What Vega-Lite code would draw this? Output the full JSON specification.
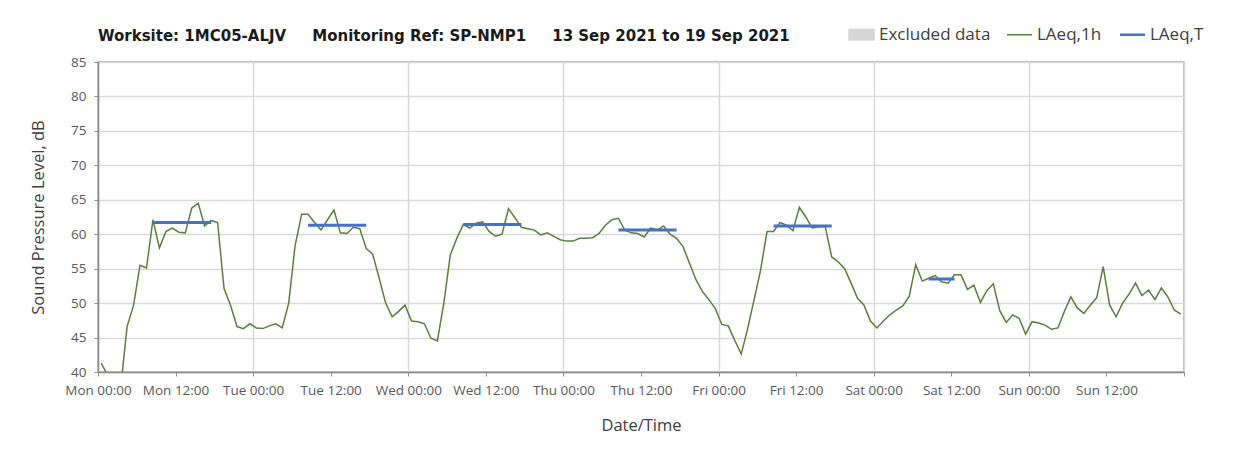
{
  "$schema": "https://vega.github.io/schema/vega-lite/v6.json",
  "width": 1086,
  "height": 310,
  "autosize": "none",
  "padding": {"left": 98, "top": 62, "right": 58, "bottom": 87},
  "background": "white",
  "title": {
    "text": "Worksite: 1MC05-ALJV\u00a0\u00a0\u00a0\u00a0\u00a0Monitoring Ref: SP-NMP1\u00a0\u00a0\u00a0\u00a0\u00a013 Sep 2021 to 19 Sep 2021",
    "anchor": "start",
    "frame": "group",
    "font": "DejaVu Sans",
    "fontSize": 15,
    "fontWeight": "bold",
    "color": "#1a1a1a",
    "offset": 18,
    "dy": 36
  },
  "datasets": {
    "hourly": [
      {"hour": 0.5, "level": 41.3}, {"hour": 1.5, "level": 39.5}, {"hour": 2.5, "level": 38.0}, {"hour": 3.5, "level": 37.6},
      {"hour": 4.5, "level": 46.6}, {"hour": 5.5, "level": 49.7}, {"hour": 6.5, "level": 55.5}, {"hour": 7.5, "level": 55.1},
      {"hour": 8.5, "level": 62.1}, {"hour": 9.5, "level": 58.0}, {"hour": 10.5, "level": 60.4}, {"hour": 11.5, "level": 60.9},
      {"hour": 12.5, "level": 60.3}, {"hour": 13.5, "level": 60.2}, {"hour": 14.5, "level": 63.8}, {"hour": 15.5, "level": 64.5},
      {"hour": 16.5, "level": 61.2}, {"hour": 17.5, "level": 62.0}, {"hour": 18.5, "level": 61.7}, {"hour": 19.5, "level": 52.1},
      {"hour": 20.5, "level": 49.7}, {"hour": 21.5, "level": 46.6}, {"hour": 22.5, "level": 46.3}, {"hour": 23.5, "level": 47.0},
      {"hour": 24.5, "level": 46.4}, {"hour": 25.5, "level": 46.3}, {"hour": 26.5, "level": 46.7}, {"hour": 27.5, "level": 47.0},
      {"hour": 28.5, "level": 46.4}, {"hour": 29.5, "level": 50.0}, {"hour": 30.5, "level": 58.4}, {"hour": 31.5, "level": 62.9},
      {"hour": 32.5, "level": 62.9}, {"hour": 33.5, "level": 61.7}, {"hour": 34.5, "level": 60.6}, {"hour": 35.5, "level": 62.1},
      {"hour": 36.5, "level": 63.5}, {"hour": 37.5, "level": 60.2}, {"hour": 38.5, "level": 60.1}, {"hour": 39.5, "level": 61.0},
      {"hour": 40.5, "level": 60.8}, {"hour": 41.5, "level": 57.9}, {"hour": 42.5, "level": 57.1}, {"hour": 43.5, "level": 53.6},
      {"hour": 44.5, "level": 50.0}, {"hour": 45.5, "level": 48.0}, {"hour": 46.5, "level": 48.8}, {"hour": 47.5, "level": 49.7},
      {"hour": 48.5, "level": 47.4}, {"hour": 49.5, "level": 47.3}, {"hour": 50.5, "level": 47.0}, {"hour": 51.5, "level": 44.9},
      {"hour": 52.5, "level": 44.5}, {"hour": 53.5, "level": 50.0}, {"hour": 54.5, "level": 57.0}, {"hour": 55.5, "level": 59.4},
      {"hour": 56.5, "level": 61.4}, {"hour": 57.5, "level": 60.9}, {"hour": 58.5, "level": 61.6}, {"hour": 59.5, "level": 61.8},
      {"hour": 60.5, "level": 60.4}, {"hour": 61.5, "level": 59.7}, {"hour": 62.5, "level": 60.0}, {"hour": 63.5, "level": 63.7},
      {"hour": 64.5, "level": 62.4}, {"hour": 65.5, "level": 61.0}, {"hour": 66.5, "level": 60.8}, {"hour": 67.5, "level": 60.6},
      {"hour": 68.5, "level": 59.9}, {"hour": 69.5, "level": 60.2}, {"hour": 70.5, "level": 59.7}, {"hour": 71.5, "level": 59.2},
      {"hour": 72.5, "level": 59.0}, {"hour": 73.5, "level": 59.0}, {"hour": 74.5, "level": 59.4}, {"hour": 75.5, "level": 59.4},
      {"hour": 76.5, "level": 59.5}, {"hour": 77.5, "level": 60.1}, {"hour": 78.5, "level": 61.3}, {"hour": 79.5, "level": 62.1},
      {"hour": 80.5, "level": 62.3}, {"hour": 81.5, "level": 60.6}, {"hour": 82.5, "level": 60.2}, {"hour": 83.5, "level": 60.1},
      {"hour": 84.5, "level": 59.6}, {"hour": 85.5, "level": 60.9}, {"hour": 86.5, "level": 60.6}, {"hour": 87.5, "level": 61.2},
      {"hour": 88.5, "level": 60.0}, {"hour": 89.5, "level": 59.4}, {"hour": 90.5, "level": 58.2}, {"hour": 91.5, "level": 55.8},
      {"hour": 92.5, "level": 53.4}, {"hour": 93.5, "level": 51.7}, {"hour": 94.5, "level": 50.5}, {"hour": 95.5, "level": 49.2},
      {"hour": 96.5, "level": 46.9}, {"hour": 97.5, "level": 46.7}, {"hour": 98.5, "level": 44.6}, {"hour": 99.5, "level": 42.6},
      {"hour": 100.5, "level": 46.3}, {"hour": 101.5, "level": 50.5}, {"hour": 102.5, "level": 54.8}, {"hour": 103.5, "level": 60.4},
      {"hour": 104.5, "level": 60.4}, {"hour": 105.5, "level": 61.7}, {"hour": 106.5, "level": 61.3}, {"hour": 107.5, "level": 60.5},
      {"hour": 108.5, "level": 63.9}, {"hour": 109.5, "level": 62.5}, {"hour": 110.5, "level": 60.9}, {"hour": 111.5, "level": 61.1},
      {"hour": 112.5, "level": 61.1}, {"hour": 113.5, "level": 56.7}, {"hour": 114.5, "level": 56.0}, {"hour": 115.5, "level": 55.0},
      {"hour": 116.5, "level": 52.9}, {"hour": 117.5, "level": 50.7}, {"hour": 118.5, "level": 49.7}, {"hour": 119.5, "level": 47.4},
      {"hour": 120.5, "level": 46.4}, {"hour": 121.5, "level": 47.4}, {"hour": 122.5, "level": 48.3}, {"hour": 123.5, "level": 49.0},
      {"hour": 124.5, "level": 49.6}, {"hour": 125.5, "level": 51.0}, {"hour": 126.5, "level": 55.6}, {"hour": 127.5, "level": 53.2},
      {"hour": 128.5, "level": 53.6}, {"hour": 129.5, "level": 54.0}, {"hour": 130.5, "level": 53.1}, {"hour": 131.5, "level": 52.9},
      {"hour": 132.5, "level": 54.1}, {"hour": 133.5, "level": 54.1}, {"hour": 134.5, "level": 52.0}, {"hour": 135.5, "level": 52.6},
      {"hour": 136.5, "level": 50.1}, {"hour": 137.5, "level": 51.8}, {"hour": 138.5, "level": 52.8}, {"hour": 139.5, "level": 48.9},
      {"hour": 140.5, "level": 47.2}, {"hour": 141.5, "level": 48.3}, {"hour": 142.5, "level": 47.8}, {"hour": 143.5, "level": 45.5},
      {"hour": 144.5, "level": 47.3}, {"hour": 145.5, "level": 47.1}, {"hour": 146.5, "level": 46.8}, {"hour": 147.5, "level": 46.2},
      {"hour": 148.5, "level": 46.4}, {"hour": 149.5, "level": 48.8}, {"hour": 150.5, "level": 50.9}, {"hour": 151.5, "level": 49.3},
      {"hour": 152.5, "level": 48.5}, {"hour": 153.5, "level": 49.7}, {"hour": 154.5, "level": 50.8}, {"hour": 155.5, "level": 55.3},
      {"hour": 156.5, "level": 49.7}, {"hour": 157.5, "level": 48.0}, {"hour": 158.5, "level": 50.0}, {"hour": 159.5, "level": 51.3},
      {"hour": 160.5, "level": 52.9}, {"hour": 161.5, "level": 51.1}, {"hour": 162.5, "level": 51.9}, {"hour": 163.5, "level": 50.5},
      {"hour": 164.5, "level": 52.2}, {"hour": 165.5, "level": 50.9}, {"hour": 166.5, "level": 49.0}, {"hour": 167.5, "level": 48.4}
    ],
    "periods": [
      {"start": 8.5, "end": 17.5, "level": 61.7},
      {"start": 32.5, "end": 41.5, "level": 61.3},
      {"start": 56.5, "end": 65.5, "level": 61.4},
      {"start": 80.5, "end": 89.5, "level": 60.6},
      {"start": 104.5, "end": 113.5, "level": 61.2},
      {"start": 128.5, "end": 132.5, "level": 53.5}
    ]
  },
  "layer": [
    {
      "data": {"name": "hourly"},
      "mark": {"type": "line", "strokeWidth": 1.5, "clip": true},
      "encoding": {
        "x": {
          "field": "hour",
          "type": "quantitative",
          "scale": {"domain": [0, 168], "nice": false, "zero": false},
          "axis": {
            "title": "Date/Time",
            "values": [0, 12, 24, 36, 48, 60, 72, 84, 96, 108, 120, 132, 144, 156, 168],
            "labelExpr": "datum.value >= 168 ? '' : ['Mon','Tue','Wed','Thu','Fri','Sat','Sun'][floor(datum.value / 24)] + (datum.value % 24 == 0 ? ' 00:00' : ' 12:00')",
            "grid": true,
            "gridOpacity": {"condition": {"test": "datum.value % 24 == 0", "value": 1}, "value": 0},
            "labelPadding": 7,
            "titlePadding": 21,
            "labelFlush": false,
            "labelOverlap": false
          }
        },
        "y": {
          "field": "level",
          "type": "quantitative",
          "scale": {"domain": [40, 85], "nice": false, "zero": false},
          "axis": {
            "title": "Sound Pressure Level, dB",
            "values": [40, 45, 50, 55, 60, 65, 70, 75, 80, 85],
            "labelPadding": 8,
            "titlePadding": 24,
            "labelOverlap": false,
            "grid": true
          }
        },
        "color": {
          "datum": "LAeq,1h",
          "type": "nominal",
          "scale": {"domain": ["Excluded data", "LAeq,1h", "LAeq,T"], "range": ["#d6d6d6", "#5b7f3d", "#4472c4"]},
          "legend": {
            "title": null,
            "orient": "none",
            "direction": "horizontal",
            "legendX": 755,
            "legendY": -36,
            "symbolType": "stroke",
            "symbolSize": 625,
            "symbolStrokeWidth": 1.5,
            "labelFont": "Open Sans",
            "labelFontSize": 17,
            "labelColor": "#404040",
            "labelOffset": 9,
            "columnPadding": 13,
            "encode": {
              "symbols": {
                "update": {
                  "shape": {"signal": "datum.value === 'Excluded data' ? 'M-1,-0.42H1V0.42H-1Z' : 'stroke'"},
                  "fill": {"signal": "datum.value === 'Excluded data' ? '#d6d6d6' : 'transparent'"},
                  "stroke": {"signal": "datum.value === 'Excluded data' ? 'transparent' : scale('color', datum.value)"},
                  "strokeWidth": {"signal": "datum.value === 'LAeq,T' ? 2.5 : 1.5"}
                }
              }
            }
          }
        }
      }
    },
    {
      "data": {"name": "periods"},
      "mark": {"type": "rule", "strokeWidth": 3},
      "encoding": {
        "x": {"field": "start", "type": "quantitative"},
        "x2": {"field": "end"},
        "y": {
          "field": "level",
          "type": "quantitative",
          "axis": {
            "title": "Sound Pressure Level, dB",
            "values": [40, 45, 50, 55, 60, 65, 70, 75, 80, 85],
            "labelPadding": 8,
            "titlePadding": 24,
            "labelOverlap": false,
            "grid": true
          }
        },
        "color": {"datum": "LAeq,T", "type": "nominal"}
      }
    }
  ],
  "config": {
    "view": {"stroke": "#a6a6a6", "strokeWidth": 1.5},
    "axis": {
      "labelFont": "Open Sans",
      "labelFontSize": 13.5,
      "labelColor": "#595959",
      "titleFont": "Open Sans",
      "titleFontSize": 16.5,
      "titleFontWeight": "normal",
      "titleColor": "#404040",
      "domainColor": "#8c8c8c",
      "domainWidth": 1.5,
      "tickColor": "#8c8c8c",
      "tickSize": 4,
      "gridColor": "#d9d9d9",
      "gridWidth": 1.5
    }
  }
}
